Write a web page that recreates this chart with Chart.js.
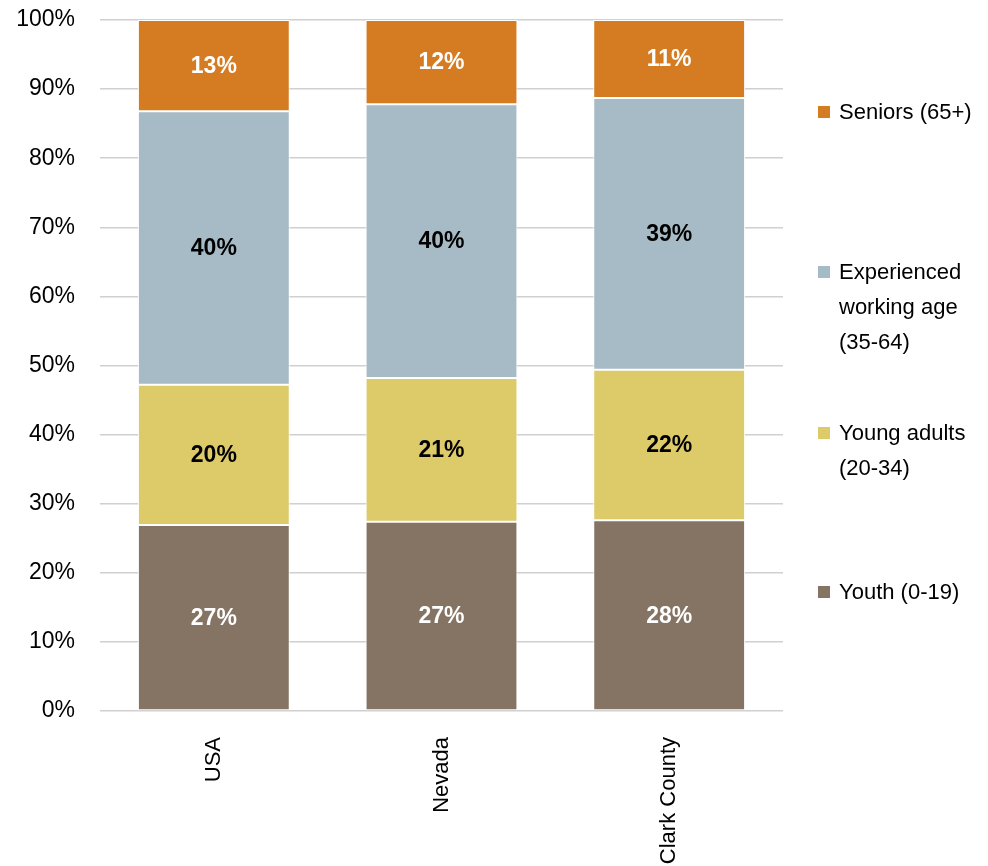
<!DOCTYPE html>
<html>
<head>
<meta charset="utf-8">
<script src="https://cdn.jsdelivr.net/npm/chart.js@4/dist/chart.umd.min.js"></script>
<style>
  html, body { margin: 0; padding: 0; background: #fff; }
  #wrap { width: 988px; height: 866px; position: relative; }
</style>
</head>
<body>
<div id="wrap"><canvas id="ageChart" width="988" height="866"></canvas></div>
<script>
// data (percent of population)
const categories = ['USA', 'Nevada', 'Clark County']
const youth = [26.9, 27.4, 27.6]
const youngAdults = [20.3, 20.8, 21.8]
const experienced = [39.6, 39.6, 39.3]
const seniors = [13.2, 12.2, 11.3]
const yTicks = [0, 10, 20, 30, 40, 50, 60, 70, 80, 90, 100]

const FONT = '"Liberation Sans", Arial, sans-serif'

// legend drawn in the right margin, top to bottom
const legendItems = [
  { lines: ['Seniors (65+)'], color: '#D57B22', y: 112 },
  { lines: ['Experienced', 'working age', '(35-64)'], color: '#A7BBC6', y: 272 },
  { lines: ['Young adults', '(20-34)'], color: '#DDCA69', y: 433 },
  { lines: ['Youth (0-19)'], color: '#857464', y: 592 }
]

const sideLegend = {
  id: 'sideLegend',
  afterDraw (chart) {
    const ctx = chart.ctx
    ctx.save()
    ctx.font = '22px ' + FONT
    ctx.textBaseline = 'middle'
    ctx.textAlign = 'left'
    legendItems.forEach((item) => {
      ctx.fillStyle = item.color
      ctx.fillRect(818, item.y - 6, 12, 12)
      ctx.fillStyle = '#000'
      item.lines.forEach((line, i) => {
        ctx.fillText(line, 839, item.y + 1 + i * 35)
      })
    })
    ctx.restore()
  }
}

const barLabels = {
  id: 'barLabels',
  afterDatasetsDraw (chart) {
    const ctx = chart.ctx
    ctx.save()
    ctx.font = 'bold 23px ' + FONT
    ctx.textAlign = 'center'
    ctx.textBaseline = 'middle'
    chart.data.datasets.forEach((ds, di) => {
      const meta = chart.getDatasetMeta(di)
      meta.data.forEach((bar, i) => {
        const p = bar.getCenterPoint()
        ctx.fillStyle = ds.labelColor
        ctx.fillText(Math.round(ds.data[i]) + '%', p.x, p.y + 1)
      })
    })
    ctx.restore()
  }
}

const common = {
  borderColor: '#ffffff',
  borderWidth: 1,
  borderSkipped: false,
  categoryPercentage: 1,
  barPercentage: 0.667
}

const ctx = document.getElementById('ageChart')
const myChart = new Chart(ctx, {
  type: 'bar',
  data: {
    labels: categories,
    datasets: [
      Object.assign({ label: 'Youth (0-19)', data: youth, backgroundColor: '#857464', labelColor: '#fff' }, common),
      Object.assign({ label: 'Young adults (20-34)', data: youngAdults, backgroundColor: '#DDCA69', labelColor: '#000' }, common),
      Object.assign({ label: 'Experienced working age (35-64)', data: experienced, backgroundColor: '#A7BBC6', labelColor: '#000' }, common),
      Object.assign({ label: 'Seniors (65+)', data: seniors, backgroundColor: '#D57B22', labelColor: '#fff' }, common)
    ]
  },
  options: {
    responsive: false,
    animation: false,
    layout: { padding: { top: 20, right: 205, left: 0, bottom: 0 } },
    plugins: {
      legend: { display: false },
      tooltip: { enabled: false }
    },
    scales: {
      x: {
        stacked: true,
        grid: { display: false },
        border: { display: false },
        ticks: {
          color: '#000',
          font: { family: FONT, size: 22 },
          minRotation: 90,
          maxRotation: 90,
          padding: 18
        },
        afterFit (scale) {
          scale.height = 155
          scale.paddingLeft = 0
          scale.paddingRight = 0
        }
      },
      y: {
        stacked: true,
        min: 0,
        max: 100,
        afterBuildTicks (scale) { scale.ticks = yTicks.map(v => ({ value: v })) },
        grid: { color: '#d0d0d0', lineWidth: 1.5, drawTicks: false },
        border: { display: false },
        ticks: {
          color: '#000',
          font: { family: FONT, size: 23 },
          padding: 25,
          callback: (v) => v + '%'
        },
        afterFit (scale) {
          scale.width = 100
          scale.paddingTop = 0
          scale.paddingBottom = 0
        }
      }
    }
  },
  plugins: [barLabels, sideLegend]
})
</script>
</body>
</html>
